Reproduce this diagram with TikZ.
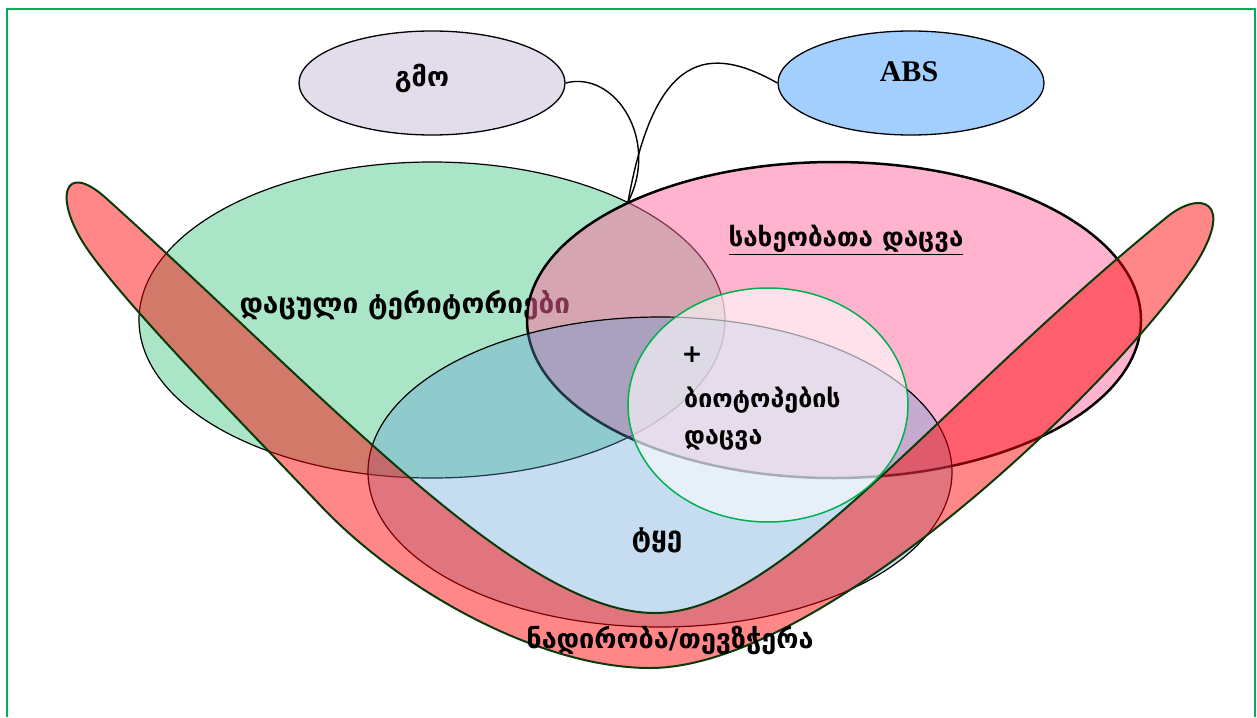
\documentclass[tikz,border=0pt]{standalone}
\usepackage{fontspec}
\setmainfont{DejaVu Sans}
\newfontfamily\geo{DejaVu Sans}
\newfontfamily\tms{Liberation Serif}
\usetikzlibrary{shapes.geometric}
\definecolor{frameG}{HTML}{00B050}
\definecolor{gfill}{HTML}{ABE5C8}
\definecolor{pfill}{RGB}{255,103,157}
\definecolor{bfill}{HTML}{5B9BD5}
\definecolor{uedge}{HTML}{0A3A0A}
\definecolor{lav}{HTML}{E2DCEB}
\definecolor{absb}{HTML}{A3CFFF}
\begin{document}
\begin{tikzpicture}[x=1pt,y=-1pt,
  lbl/.style={font=\geo\bfseries\fontsize{27}{31}\selectfont, inner sep=0pt, text=black},
  topell/.style={ellipse, draw=black, line width=1.3pt, minimum width=266pt, minimum height=104pt, inner sep=0pt},
  conn/.style={draw=black, line width=1.4pt}]
\useasboundingbox (0,0) rectangle (1257,717);
\draw[frameG, line width=2.5pt] (7,717) -- (7,9) -- (1255,9) -- (1255,717);
% protected areas
\path[fill=gfill, draw=black, line width=1.2pt] (432,320) ellipse [x radius=293pt, y radius=158pt];
\node[lbl, font=\geo\bfseries\fontsize{28}{32}\selectfont] (prot) at (405,305) {დაცული ტერიტორიები};
% species
\path[fill=pfill, fill opacity=0.5, draw=black, line width=2.5pt] (834,320) ellipse [x radius=307pt, y radius=158pt];
% forest
\path[fill=bfill, fill opacity=0.35, draw=black, line width=1.2pt] (660,472) ellipse [x radius=292pt, y radius=155pt];
% hunting / fishing band
\path[fill=red, fill opacity=0.47, draw=uedge, line width=2pt]
  (107,199) .. controls (330,400) and (520,613) .. (655,613)
  .. controls (780,613) and (930,410) .. (1167,217)
  .. controls (1200,190) and (1236,200) .. (1195,265)
  .. controls (1110,390) and (820,668) .. (650,668)
  .. controls (540,668) and (400,590) .. (320,505)
  .. controls (250,431) and (130,310) .. (88,250)
  .. controls (53,200) and (62,158) .. (107,199) -- cycle;
% biotope circle
\path[fill=white, fill opacity=0.6, draw=frameG, line width=1.5pt] (768,405) ellipse [x radius=140pt, y radius=117pt];
% labels
\node[lbl, font=\geo\bfseries\fontsize{26}{30}\selectfont] (spec) at (846,240) {\underline{სახეობათა დაცვა}};
\node[lbl, font=\geo\bfseries\fontsize{25}{29}\selectfont] (plus) at (692,355) {+};
\node[lbl, anchor=west, font=\geo\bfseries\fontsize{25}{29}\selectfont] (bio1) at (684,400) {ბიოტოპების};
\node[lbl, anchor=west, font=\geo\bfseries\fontsize{25}{29}\selectfont] (bio2) at (684,440) {დაცვა};
\node[lbl, font=\geo\bfseries\fontsize{28}{32}\selectfont] (forest) at (657,540) {ტყე};
\node[lbl] (hunt) at (670,640) {ნადირობა/თევზჭერა};
% top ellipses
\node[topell, fill=lav] (gmo) at (432,83) {};
\node[topell, fill=absb] (abs) at (911,83) {};
\node[lbl] (gmot) at (422,78) {გმო};
\node[inner sep=0pt, font=\tms\bfseries\fontsize{30}{34}\selectfont] (abst) at (909,72) {ABS};
\coordinate (meet) at (628,202);
\draw[conn] (gmo.east) .. controls (615,70) and (660,140) .. (meet);
\draw[conn] (abs.west) .. controls (710,45) and (655,50) .. (meet);
\end{tikzpicture}
\end{document}
